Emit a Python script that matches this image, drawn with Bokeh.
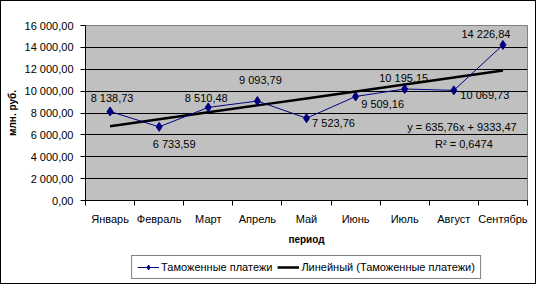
import numpy as np
from bokeh.plotting import figure
from bokeh.layouts import column
from bokeh.models import (ColumnDataSource, FixedTicker, CustomJSTickFormatter,
                          Legend, LegendItem, Range1d, Label, InlineStyleSheet)
from bokeh.core.properties import value
from bokeh.embed import file_html
from bokeh.resources import INLINE

# ---- data ----
months = ["Январь", "Февраль", "Март", "Апрель", "Май", "Июнь", "Июль", "Август", "Сентябрь"]
payments = [8138.73, 6733.59, 8510.48, 9093.79, 7523.76, 9509.16, 10195.15, 10069.73, 14226.84]
y_ticks = [0, 2000, 4000, 6000, 8000, 10000, 12000, 14000, 16000]
series_name = "Таможенные платежи"
trend_name = "Линейный (Таможенные платежи)"
x_title = "период"
y_title = "млн. руб."

# label offsets (styling only, in pixels)
lbl_dx = [2, 15, -2, 3, 27, 27, -1, 31, -17]
lbl_dy = [-13, 17, -9, -21, 5, 8, -11, 5, -11]


def fmt(v):
    s = f"{v:,.2f}"
    i, d = s.split(".")
    return i.replace(",", " ") + "," + d


x = np.arange(1, len(months) + 1)
yv = np.array(payments)
slope, intercept = np.polyfit(x - x.mean(), yv, 1)  # Excel-like centred display
slope_raw, icpt_raw = np.polyfit(x, yv, 1)
trend = slope_raw * x + icpt_raw
r2 = 1 - np.sum((yv - trend) ** 2) / np.sum((yv - yv.mean()) ** 2)

FONT = "Liberation Sans"
NAVY = "#000080"

p = figure(frame_width=442, frame_height=175, output_backend="svg", toolbar_location=None,
           x_range=Range1d(0.5, len(months) + 0.5), y_range=Range1d(y_ticks[0], y_ticks[-1]),
           min_border_left=84, min_border_right=8, min_border_top=24, min_border_bottom=51)
p.background_fill_color = "#C0C0C0"
p.border_fill_color = "white"
p.outline_line_color = "#808080"
p.outline_line_width = 1

# grid
p.xgrid.visible = False
p.ygrid.ticker = FixedTicker(ticks=y_ticks)
p.ygrid.grid_line_color = "black"
p.ygrid.grid_line_width = 1

# y axis
ya = p.yaxis[0]
ya.ticker = FixedTicker(ticks=y_ticks)
ya.formatter = CustomJSTickFormatter(code="""
const s = tick.toFixed(2);
const parts = s.split('.');
return parts[0].replace(/\\B(?=(\\d{3})+(?!\\d))/g, ' ') + ',' + parts[1];
""")
ya.major_tick_out = 5
ya.major_tick_in = 0
ya.minor_tick_out = 0
ya.minor_tick_in = 0
ya.major_label_standoff = 7
ya.axis_line_color = "black"
ya.major_tick_line_color = "black"
ya.major_label_text_font = FONT
ya.major_label_text_font_size = "11px"
ya.major_label_text_color = "black"
ya.axis_label = y_title
ya.axis_label_text_font = FONT
ya.axis_label_text_font_size = "10px"
ya.axis_label_text_font_style = "bold"
ya.axis_label_text_color = "black"
ya.axis_label_standoff = 4

# x axis
xa = p.xaxis[0]
xa.ticker = FixedTicker(ticks=list(x), minor_ticks=list(np.arange(0.5, len(months) + 1, 1.0)))
xa.major_label_overrides = {int(i): m for i, m in zip(x, months)}
xa.major_tick_out = 0
xa.major_tick_in = 0
xa.minor_tick_out = 5
xa.minor_tick_in = 0
xa.minor_tick_line_color = "black"
xa.axis_line_color = "black"
xa.major_label_standoff = 7
xa.major_label_text_font = FONT
xa.major_label_text_font_size = "11px"
xa.major_label_text_color = "black"
xa.axis_label = x_title
xa.axis_label_text_font = FONT
xa.axis_label_text_font_size = "10px"
xa.axis_label_text_font_style = "bold"
xa.axis_label_text_color = "black"
xa.axis_label_standoff = 6

src = ColumnDataSource(dict(x=x, y=payments, lbl=[fmt(v) for v in payments],
                            dx=lbl_dx, dy=lbl_dy, trend=trend))

p.line("x", "trend", source=src, line_color="black", line_width=2.5)
p.line("x", "y", source=src, line_color=NAVY, line_width=1)
p.scatter("x", "y", source=src, marker="diamond", size=9, fill_color=NAVY, line_color=NAVY)

p.text("x", "y", text="lbl", source=src, x_offset="dx", y_offset="dy",
       text_align="center", text_baseline="middle", text_font=value(FONT),
       text_font_size="11px", text_color="black")

eq = f"y = {slope:.2f}x + {intercept:.2f}".replace(".", ",")
r2s = f"R² = {r2:.4f}".replace(".", ",")
p.add_layout(Label(x=x[-1], y=trend[-1], text=eq, x_offset=-41, y_offset=-56,
                   text_align="center", text_baseline="middle", text_font=FONT,
                   text_font_size="11px", text_color="black"))
p.add_layout(Label(x=x[-1], y=trend[-1], text=r2s, x_offset=-39, y_offset=-73,
                   text_align="center", text_baseline="middle", text_font=FONT,
                   text_font_size="11px", text_color="black"))

# ---- legend strip (renderers use the same data but lie outside this strip's ranges) ----
pl = figure(width=534, height=32, output_backend="svg", toolbar_location=None,
            x_axis_location=None, y_axis_location=None,
            min_border_left=65, min_border_right=0, min_border_top=0, min_border_bottom=0,
            x_range=Range1d(-2, -1), y_range=Range1d(-2, -1))
pl.grid.visible = False
pl.outline_line_color = None
pl.background_fill_color = "white"
pl.border_fill_color = "white"
lg_tr = pl.line("x", "trend", source=src, line_color="black", line_width=2.5)
lg_ln = pl.line("x", "y", source=src, line_color=NAVY, line_width=1)
lg_mk = pl.scatter("x", "y", source=src, marker="diamond", size=9,
                   fill_color=NAVY, line_color=NAVY)

legend = Legend(items=[LegendItem(label=series_name, renderers=[lg_ln, lg_mk]),
                       LegendItem(label=trend_name, renderers=[lg_tr])],
                orientation="horizontal", location="center",
                label_text_font=FONT, label_text_font_size="11px",
                label_text_color="black", glyph_width=22, glyph_height=12,
                label_standoff=2, spacing=5, padding=5, margin=0,
                label_height=12, border_line_color="black", border_line_width=1,
                background_fill_color="white", background_fill_alpha=1)
pl.add_layout(legend)

layout = column(p, pl, spacing=0)
layout.stylesheets = [InlineStyleSheet(css=":host { border: 1px solid black; }")]

open("out.html", "w").write(file_html(layout, INLINE))
